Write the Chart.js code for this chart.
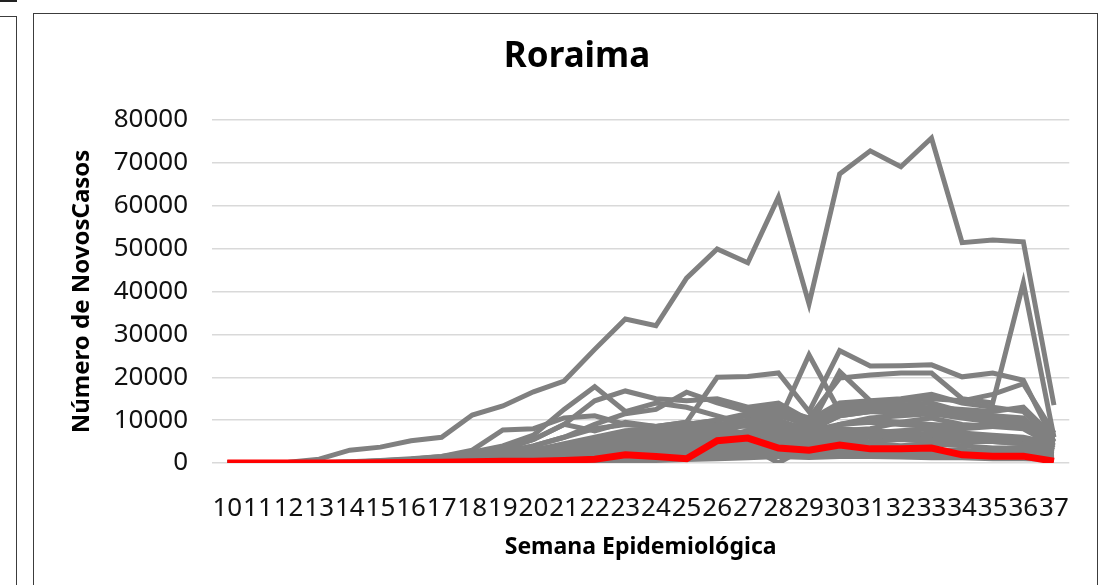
<!DOCTYPE html>
<html>
<head>
<meta charset="utf-8">
<script src="https://cdn.jsdelivr.net/npm/chart.js@4.4.0/dist/chart.umd.min.js"></script>
<style>
    body { margin: 0; background: #fff; }
    #wrap { position: relative; width: 1099px; height: 585px; overflow: hidden; }
    #myChart { position: absolute; left: 0; top: 0; }
    .frame { position: absolute; border: 1px solid #3c3c3c; }
</style>
</head>
<body>
<div id="wrap">
    <canvas id="myChart" width="1099" height="585"></canvas>
    <div style="position:absolute;left:0;top:0;width:17px;height:2px;background:#222"></div>
    <div class="frame" style="left:-10px;top:16px;width:25px;height:600px"></div>
    <div class="frame" style="left:33px;top:13px;width:1063px;height:600px"></div>
</div>
<script>
// semanas epidemiologicas 10 a 37
const weeks = [10, 11, 12, 13, 14, 15, 16, 17, 18, 19, 20, 21, 22, 23, 24, 25, 26, 27, 28, 29, 30, 31, 32, 33, 34, 35, 36, 37]

const yTicks = [0, 10000, 20000, 30000, 40000, 50000, 60000, 70000, 80000]

// Roraima (linha vermelha)
const roraima = [0, 0, 0, 0, 0, 50, 100, 150, 300, 400, 400, 600, 900, 1900, 1500, 1000, 5200, 5800, 3500, 3000, 4200, 3300, 3300, 3500, 1900, 1600, 1600, 400]

// demais estados (linhas cinzas)
const uf01 = [0, 0, 200, 900, 3000, 3700, 5200, 6000, 11200, 13300, 16600, 19100, 26500, 33600, 32000, 43100, 49900, 46700, 62000, 37100, 67400, 72800, 69100, 75800, 51400, 52000, 51600, 13500]
const uf02 = [0, 0, 0, 50, 200, 400, 700, 1000, 1500, 2500, 4000, 6000, 8000, 9000, 8500, 9500, 20000, 20200, 21000, 12000, 26200, 22600, 22700, 22900, 20100, 21000, 19300, 5000]
const uf03 = [0, 0, 0, 0, 100, 200, 400, 600, 1000, 1800, 3000, 4500, 6000, 7500, 8000, 9000, 10000, 11500, 9500, 25200, 12000, 13000, 13500, 14000, 12000, 11000, 10500, 4000]
const uf04 = [0, 0, 0, 0, 0, 100, 200, 400, 700, 1200, 2000, 3000, 4500, 5500, 6500, 7000, 8500, 9500, 12000, 8000, 21300, 14500, 13000, 12500, 11000, 10000, 9000, 3500]
const uf05 = [0, 0, 0, 0, 50, 150, 300, 600, 1000, 1800, 3000, 4200, 5500, 7000, 8000, 9000, 10000, 11000, 12500, 10500, 19800, 20500, 21000, 21000, 15000, 14000, 42000, 6000]
const uf06 = [0, 0, 0, 100, 300, 600, 1000, 1500, 2500, 4000, 6500, 12500, 17800, 12000, 14000, 13000, 11000, 9000, 8500, 7000, 8000, 7500, 7000, 6500, 6000, 6000, 5500, 3000]
const uf07 = [0, 0, 0, 50, 200, 400, 800, 1200, 2000, 3500, 5500, 9000, 14500, 16800, 15000, 14500, 15000, 13000, 14000, 10000, 14000, 14500, 15000, 16000, 14000, 13000, 12000, 5000]
const uf08 = [0, 0, 0, 50, 200, 500, 900, 1500, 3000, 7700, 8000, 10500, 11000, 9000, 8500, 9500, 8000, 10000, 11000, 9000, 11500, 12000, 12500, 11000, 12000, 10000, 9000, 4500]
const uf09 = [0, 0, 0, 0, 100, 300, 600, 1000, 1800, 3000, 5500, 9000, 7500, 9500, 8500, 9000, 7000, 6500, 8000, 6000, 9000, 10000, 9500, 10500, 9000, 8500, 8000, 4000]
const uf10 = [0, 0, 0, 0, 100, 300, 500, 900, 1500, 2500, 4000, 6000, 9000, 11500, 12500, 16500, 14000, 12000, 13000, 9000, 12500, 13000, 12000, 12500, 11500, 11000, 10000, 4500]
const uf11 = [0, 0, 0, 0, 50, 100, 300, 500, 900, 1500, 2500, 3500, 5000, 6000, 7000, 8000, 9000, 8500, 8000, 7500, 11000, 12000, 11500, 12000, 11000, 10000, 9500, 4000]
const uf12 = [0, 0, 0, 0, 0, 100, 200, 400, 700, 1200, 2000, 3000, 4000, 5000, 5500, 6500, 7500, 7000, 6500, 6000, 7000, 7500, 7000, 6500, 6500, 6000, 5500, 3500]
const uf13 = [0, 0, 0, 0, 0, 50, 150, 300, 500, 900, 1500, 2200, 3000, 3800, 4500, 5500, 6000, 6500, 7000, 6000, 9000, 9500, 9000, 8500, 8000, 8500, 9000, 5000]
const uf14 = [0, 0, 0, 0, 0, 0, 100, 200, 400, 700, 1000, 1500, 2200, 3000, 3500, 4500, 5000, 5500, 6000, 5000, 6500, 7000, 7500, 8000, 7000, 6500, 6000, 4500]
const uf15 = [0, 0, 0, 0, 0, 0, 50, 150, 300, 500, 800, 1200, 1800, 2500, 3000, 3500, 4000, 4500, 5000, 4500, 5500, 6000, 6500, 7000, 6500, 6000, 5500, 4000]
const uf16 = [0, 0, 0, 0, 0, 0, 50, 100, 200, 400, 600, 900, 1300, 1800, 2500, 3000, 3500, 4000, 0, 4000, 4500, 5000, 5500, 5000, 5500, 5000, 4500, 3000]
const uf17 = [0, 0, 0, 0, 0, 0, 0, 100, 200, 300, 500, 700, 1000, 1400, 2000, 2500, 3000, 3500, 4000, 3500, 4000, 4500, 4000, 4500, 4000, 3500, 3500, 2500]
const uf18 = [0, 0, 0, 0, 0, 0, 0, 50, 100, 200, 300, 500, 800, 1100, 1500, 2000, 2500, 3000, 3500, 3000, 3500, 3500, 3000, 3000, 3000, 2500, 2500, 2000]
const uf19 = [0, 0, 0, 0, 0, 0, 0, 0, 100, 150, 250, 400, 600, 800, 1000, 1500, 2000, 2500, 3000, 2500, 3000, 2500, 2000, 2000, 2000, 1800, 1500, 1200]
const uf20 = [0, 0, 0, 0, 0, 0, 0, 0, 50, 100, 200, 300, 400, 600, 800, 1000, 1500, 1800, 2000, 1800, 2000, 2200, 2000, 1800, 1500, 1500, 1400, 1000]
const uf21 = [0, 0, 0, 0, 0, 0, 0, 0, 0, 50, 100, 200, 300, 400, 600, 800, 1000, 1200, 1500, 1300, 1500, 1500, 1400, 1200, 1200, 1000, 1000, 800]
const uf22 = [0, 0, 0, 0, 0, 100, 200, 300, 600, 1000, 1800, 2800, 4000, 5000, 6000, 7000, 8000, 9000, 9500, 8000, 11000, 12000, 12500, 13000, 12500, 12000, 13000, 6000]
const uf23 = [0, 0, 0, 0, 0, 50, 100, 200, 400, 800, 1400, 2200, 3200, 4500, 5500, 6000, 7000, 9000, 10000, 7500, 9000, 10500, 11000, 11500, 10500, 9500, 9000, 5500]
const uf24 = [0, 0, 0, 0, 0, 0, 100, 200, 300, 600, 1000, 1600, 2400, 3500, 4000, 5000, 6000, 7500, 8000, 7000, 7500, 8000, 9500, 9000, 8500, 9000, 10000, 6000]
const uf25 = [0, 0, 0, 0, 0, 0, 100, 300, 500, 900, 1500, 2500, 3500, 5000, 6000, 7000, 9000, 10000, 11500, 9500, 13000, 14000, 14500, 15000, 14500, 16000, 18500, 7000]
const uf26 = [0, 0, 0, 0, 0, 0, 50, 100, 200, 400, 700, 1000, 1500, 2000, 2800, 3500, 4500, 5000, 5500, 5000, 6000, 6500, 6000, 5500, 5000, 5000, 4500, 3000]

const grayLines = [uf01, uf02, uf03, uf04, uf05, uf06, uf07, uf08, uf09, uf10, uf11, uf12, uf13,
    uf14, uf15, uf16, uf17, uf18, uf19, uf20, uf21, uf22, uf23, uf24, uf25, uf26]

const datasets = [{
    label: 'Roraima',
    data: roraima,
    borderColor: '#ff0000',
    borderWidth: 7,
    pointRadius: 0,
    tension: 0
}]
grayLines.forEach(function (values, i) {
    datasets.push({
        label: 'UF ' + (i + 1),
        data: values,
        borderColor: '#808080',
        borderWidth: 5,
        pointRadius: 0,
        tension: 0
    })
})

const config = {
    type: 'line',
    data: {
        labels: weeks,
        datasets: datasets
    },
    options: {
        responsive: false,
        animation: false,
        layout: {
            padding: { left: 64, right: 9, top: 20, bottom: 20 }
        },
        plugins: {
            legend: { display: false },
            tooltip: { enabled: false },
            title: {
                display: true,
                text: 'Roraima',
                color: '#000',
                font: { family: 'Noto Sans', size: 35, weight: 'bold' },
                padding: { top: 16, bottom: 42 }
            }
        },
        scales: {
            x: {
                offset: true,
                grid: { display: false, drawTicks: false },
                border: { display: false },
                ticks: {
                    autoSkip: false,
                    maxRotation: 0,
                    minRotation: 0,
                    padding: 30,
                    color: '#111',
                    font: { family: 'Noto Sans', size: 26 }
                },
                title: {
                    display: true,
                    text: 'Semana Epidemiológica',
                    color: '#000',
                    font: { family: 'Noto Sans', size: 23, weight: 'bold' },
                    padding: { top: 4, bottom: 4 }
                },
                afterFit: function (scale) { scale.height = 102 }
            },
            y: {
                min: 0,
                max: 80000,
                grid: { color: '#d9d9d9', lineWidth: 1.5, drawTicks: false },
                border: { display: false },
                afterBuildTicks: function (scale) {
                    scale.ticks = yTicks.map(function (v) { return { value: v } })
                },
                ticks: {
                    padding: 24,
                    color: '#111',
                    font: { family: 'Noto Sans', size: 26 },
                    callback: function (v) { return String(v) }
                },
                title: {
                    display: true,
                    text: 'Número de NovosCasos',
                    color: '#000',
                    font: { family: 'Noto Sans', size: 24, weight: 'bold' },
                    padding: { top: 4, bottom: 4 }
                },
                afterFit: function (scale) { scale.width = 148 }
            }
        }
    }
}

const myChart = new Chart(document.getElementById('myChart'), config)
</script>
</body>
</html>
